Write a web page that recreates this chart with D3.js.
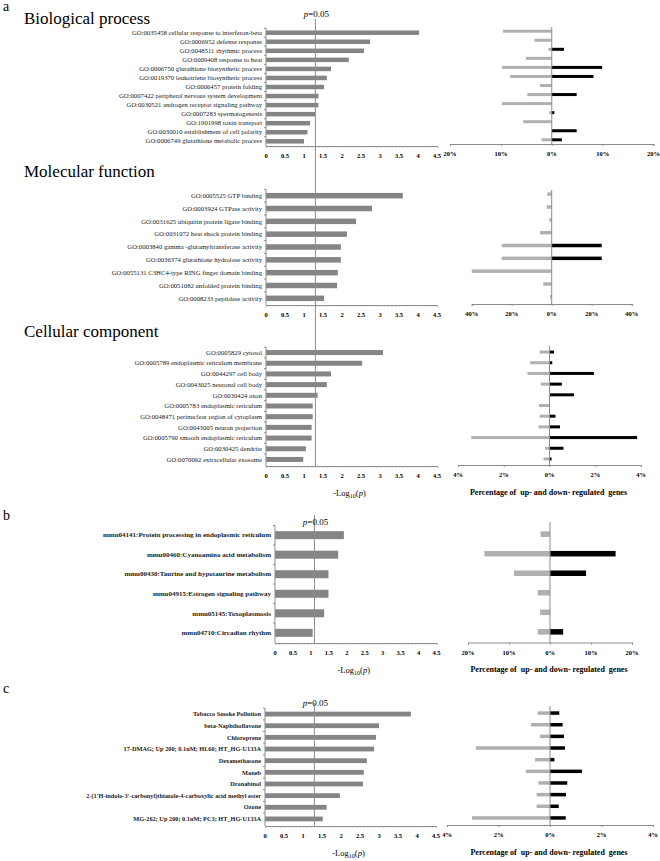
<!DOCTYPE html>
<html>
<head>
<meta charset="utf-8">
<script src="https://cdnjs.cloudflare.com/ajax/libs/d3/7.8.5/d3.min.js"></script>
<style>
    body { margin: 0; background: #fff; }
    svg { display: block; font-family: "Liberation Serif", "Times New Roman", serif; }
</style>
</head>
<body>
<div id="chart"></div>
<script>

// ---- data ----
var bpTerms = ["GO:0035458 cellular response to interferon-beta", "GO:0006952 defense response",
    "GO:0048511 rhythmic process", "GO:0009408 response to heat", "GO:0006750 glutathione biosynthetic process",
    "GO:0019370 leukotriene biosynthetic process", "GO:0006457 protein folding",
    "GO:0007422 peripheral nervous system development", "GO:0030521 androgen receptor signaling pathway",
    "GO:0007283 spermatogenesis", "GO:1901998 toxin transport", "GO:0030010 establishment of cell polarity",
    "GO:0006749 glutathione metabolic process"];
var bpLog = [4.03, 2.74, 2.58, 2.18, 1.71, 1.60, 1.53, 1.38, 1.38, 1.29, 1.16, 1.09, 1.00];
var bpDown = [9.6, 3.4, 0.65, 5.1, 9.8, 8.2, 2.3, 4.8, 9.8, 0.5, 5.6, 0, 2.0];
var bpUp = [0, 0, 2.4, 0, 9.9, 8.2, 0, 4.9, 0, 0.5, 0, 4.9, 2.0];

var mfTerms = ["GO:0005525 GTP binding", "GO:0003924 GTPase activity", "GO:0031625 ubiquitin protein ligase binding",
    "GO:0031072 heat shock protein binding", "GO:0003840 gamma -glutamyltransferase activity",
    "GO:0036374 glutathione hydrolase activity", "GO:0055131 C3HC4-type RING finger domain binding",
    "GO:0051082 unfolded protein binding", "GO:0008233 peptidase activity"];
var mfLog = [3.60, 2.79, 2.37, 2.13, 1.97, 1.97, 1.89, 1.87, 1.53];
var mfDown = [2.2, 2.5, 1.2, 5.8, 25, 25, 40, 4.2, 0.8];
var mfUp = [0, 0, 0, 0, 25, 25, 0, 0, 0];

var ccTerms = ["GO:0005829 cytosol", "GO:0005789 endoplasmic reticulum membrane", "GO:0044297 cell body",
    "GO:0043025 neuronal cell body", "GO:0030424 axon", "GO:0005783 endoplasmic reticulum",
    "GO:0048471 perinuclear region of cytoplasm", "GO:0043005 neuron projection",
    "GO:0005790 smooth endoplasmic reticulum", "GO:0030425 dendrite", "GO:0070062 extracellular exosome"];
var ccLog = [3.08, 2.53, 1.71, 1.60, 1.36, 1.23, 1.23, 1.20, 1.20, 1.05, 0.98];
var ccDown = [0.43, 0.84, 0.96, 0.38, 0, 0.46, 0.43, 0.48, 3.42, 0.19, 0.26];
var ccUp = [0.2, 0.12, 1.94, 0.54, 1.07, 0, 0.26, 0.46, 3.83, 0.61, 0.09];

var keggTerms = ["mmu04141:Protein processing in endoplasmic reticulum", "mmu00460:Cyanoamino acid metabolism",
    "mmu00430:Taurine and hypotaurine metabolism", "mmu04915:Estrogen signaling pathway",
    "mmu05145:Toxoplasmosis", "mmu04710:Circadian rhythm"];
var keggLog = [1.92, 1.76, 1.49, 1.49, 1.37, 1.05];
var keggDown = [2.3, 16, 8.8, 3.0, 2.4, 3.0];
var keggUp = [0, 16, 8.8, 0, 0, 3.2];

var drugTerms = ["Tobacco Smoke Pollution", "beta-Naphthoflavone", "Chloroprene",
    "17-DMAG; Up 200; 0.1uM; HL60; HT_HG-U133A", "Dexamethasone", "Maneb", "Dronabinol",
    "2-(1'H-indolo-3'-carbonyl)thiazole-4-carboxylic acid methyl ester", "Ozone",
    "MG-262; Up 200; 0.1uM; PC3; HT_HG-U133A"];
var drugLog = [3.84, 3.00, 2.92, 2.87, 2.68, 2.60, 2.58, 1.97, 1.62, 1.52];
var drugDown = [0.48, 0.74, 0.39, 2.88, 0.58, 0.94, 0.45, 0.52, 0.52, 3.03];
var drugUp = [0.36, 0.49, 0.54, 0.58, 0.17, 1.24, 0.67, 0.62, 0.34, 0.61];

var logTicks = [0, 0.5, 1, 1.5, 2, 2.5, 3, 3.5, 4, 4.5];
var pCut = 1.3;      // -log10(0.05)
var pCutKegg = 1.1;  // where the line sits in panel b

var svg = d3.select("#chart").append("svg")
    .attr("width", 660)
    .attr("height", 861);

var grayBar = "#858585",
    downCol = "#b0b0b0",
    upCol = "#000",
    axisCol = "#8c8c8c";

function fmtPct(d) {
    return Math.abs(d) + "%";
}

function drawPanel(o) {

    var x = d3.scaleLinear().domain([0, 4.5]).range([o.x0, o.x1]);
    var y = d3.scaleBand().domain(o.terms).range([o.top, o.bottom]).paddingOuter(0.02);
    var yc = function (t) { return y(t) + y.bandwidth() / 2; };

    var g = svg.append("g");

    // left bars
    g.selectAll(".bar")
        .data(o.terms.map(function (t, i) { return {key: t, value: o.log[i]}; }))
        .enter()
        .append("rect")
        .attr("class", "bar")
        .attr("x", x(0))
        .attr("y", function (d) { return yc(d.key) - o.barH / 2; })
        .attr("width", function (d) { return x(d.value) - x(0); })
        .attr("height", o.barH)
        .style("fill", grayBar);

    // category labels
    g.selectAll(".lab")
        .data(o.terms)
        .enter()
        .append("text")
        .attr("x", x(0) - 4)
        .attr("y", function (d) { return yc(d) + 2.2; })
        .style("text-anchor", "end")
        .style("font-size", o.labSize + "px")
        .style("font-weight", o.labBold ? "bold" : "normal")
        .style("fill", "#222")
        .text(function (d) { return d; });

    // y axis line and boundary ticks
    g.append("line")
        .attr("x1", x(0)).attr("x2", x(0))
        .attr("y1", o.top).attr("y2", o.axisY)
        .style("stroke", axisCol);
    g.selectAll(".ytick")
        .data(o.terms)
        .enter()
        .append("line")
        .attr("x1", x(0) - 2).attr("x2", x(0))
        .attr("y1", function (d) { return y(d); })
        .attr("y2", function (d) { return y(d); })
        .style("stroke", axisCol);

    // x axis: dotted minor ticks + labels
    var minor = d3.axisBottom(x).tickValues(d3.range(0, 4.51, 0.1)).tickSize(1.5).tickFormat("");
    var ax = g.append("g")
        .attr("transform", "translate(0," + o.axisY + ")")
        .call(minor);
    ax.select(".domain").style("stroke", axisCol);
    ax.selectAll(".tick line").style("stroke", "#999");

    g.selectAll(".xl")
        .data(logTicks)
        .enter()
        .append("text")
        .attr("x", function (d) { return x(d); })
        .attr("y", o.axisY + 12)
        .style("text-anchor", "middle")
        .style("font-size", "6.5px")
        .style("font-weight", "bold")
        .text(function (d) { return d; });

    // right panel
    var r = d3.scaleLinear().domain([-o.rMax, o.rMax]).range([o.r0, o.r1]);

    g.selectAll(".down")
        .data(o.terms.map(function (t, i) { return {key: t, value: o.down[i]}; }).filter(function (d) { return d.value > 0; }))
        .enter()
        .append("rect")
        .attr("x", function (d) { return r(-d.value); })
        .attr("y", function (d) { return yc(d.key) - o.rBarH / 2 - o.rShift; })
        .attr("width", function (d) { return r(0) - r(-d.value); })
        .attr("height", o.rBarH)
        .style("fill", downCol);

    g.selectAll(".up")
        .data(o.terms.map(function (t, i) { return {key: t, value: o.up[i]}; }).filter(function (d) { return d.value > 0; }))
        .enter()
        .append("rect")
        .attr("x", r(0))
        .attr("y", function (d) { return yc(d.key) - o.rBarH / 2 - o.rShift; })
        .attr("width", function (d) { return r(d.value) - r(0); })
        .attr("height", o.rBarH)
        .style("fill", upCol);

    g.append("line")
        .attr("x1", r(0)).attr("x2", r(0))
        .attr("y1", o.rTop).attr("y2", o.rAxisY)
        .style("stroke", axisCol);

    var rAxis = d3.axisBottom(r).tickValues(o.rTicks).tickSize(2).tickFormat("");
    var rax = g.append("g")
        .attr("transform", "translate(0," + o.rAxisY + ")")
        .call(rAxis);
    rax.select(".domain").style("stroke", axisCol);
    rax.selectAll(".tick line").style("stroke", axisCol);

    g.selectAll(".rl")
        .data(o.rTicks)
        .enter()
        .append("text")
        .attr("x", function (d) { return r(d); })
        .attr("y", o.rAxisY + 12)
        .style("text-anchor", "middle")
        .style("font-size", "6.5px")
        .style("font-weight", "bold")
        .text(fmtPct);

    if (o.xTitles) {
        var tl = g.append("text")
            .attr("x", (x(0) + x(4.5)) / 2 - 2)
            .attr("y", o.axisY + 30)
            .style("text-anchor", "middle")
            .style("font-size", "8.5px");
        tl.append("tspan").text("-Log");
        tl.append("tspan").attr("dy", 2).style("font-size", "6px").text("10");
        tl.append("tspan").attr("dy", -2).text("(");
        tl.append("tspan").style("font-style", "italic").text("p");
        tl.append("tspan").text(")");

        g.append("text")
            .attr("x", r(0) - 1)
            .attr("y", o.axisY + 29)
            .style("text-anchor", "middle")
            .style("font-size", "8px")
            .style("font-weight", "bold")
            .text("Percentage of\u00a0 up- and down- regulated\u00a0 genes");
    }

    return x;
}

function pLabel(xp, yy) {
    var t = svg.append("text")
        .attr("x", xp)
        .attr("y", yy)
        .style("text-anchor", "middle")
        .style("font-size", "9px");
    t.append("tspan").style("font-style", "italic").text("p");
    t.append("tspan").text("=0.05");
}

function title(txt, yy) {
    svg.append("text")
        .attr("x", 24)
        .attr("y", yy)
        .style("font-size", "17px")
        .text(txt);
}

function letter(txt, yy) {
    svg.append("text")
        .attr("x", 3)
        .attr("y", yy)
        .style("font-size", "14px")
        .text(txt);
}

// ---- panel a ----
letter("a", 11);
title("Biological process", 24);
title("Molecular function", 177);
title("Cellular component", 337);

var xBP = drawPanel({terms: bpTerms, log: bpLog, down: bpDown, up: bpUp,
    x0: 266, x1: 437, top: 28, bottom: 146, axisY: 146, barH: 4.5, labSize: 6.7,
    rMax: 20, r0: 450, r1: 653.5, rTicks: [-20, -10, 0, 10, 20], rAxisY: 144, rTop: 27, rBarH: 3, rShift: 1.5});

drawPanel({terms: mfTerms, log: mfLog, down: mfDown, up: mfUp,
    x0: 266, x1: 437, top: 189, bottom: 305, axisY: 305, barH: 5.5, labSize: 6.7,
    rMax: 40, r0: 471.7, r1: 631.7, rTicks: [-40, -20, 0, 20, 40], rAxisY: 304, rTop: 190, rBarH: 3.5, rShift: 1.5});

drawPanel({terms: ccTerms, log: ccLog, down: ccDown, up: ccUp,
    x0: 266, x1: 437, top: 347, bottom: 465, axisY: 466, barH: 5, labSize: 6.7, xTitles: true,
    rMax: 4, r0: 458, r1: 641, rTicks: [-4, -2, 0, 2, 4], rAxisY: 465, rTop: 346, rBarH: 3, rShift: 0.5});

svg.append("line")
    .attr("x1", xBP(pCut)).attr("x2", xBP(pCut))
    .attr("y1", 19).attr("y2", 466)
    .style("stroke", axisCol);
pLabel(xBP(pCut) + 1, 17);

// ---- panel b ----
letter("b", 520);
var xK = drawPanel({terms: keggTerms, log: keggLog, down: keggDown, up: keggUp,
    x0: 275, x1: 436.5, top: 525, bottom: 643, axisY: 643, barH: 8, labSize: 7, labBold: true, xTitles: true,
    rMax: 20, r0: 468, r1: 632, rTicks: [-20, -10, 0, 10, 20], rAxisY: 642.5, rTop: 522, rBarH: 5.5, rShift: 1});
svg.append("line")
    .attr("x1", xK(pCutKegg)).attr("x2", xK(pCutKegg))
    .attr("y1", 515).attr("y2", 643)
    .style("stroke", axisCol);
pLabel(xK(pCutKegg) + 1, 525);

// ---- panel c ----
letter("c", 693);
var xD = drawPanel({terms: drugTerms, log: drugLog, down: drugDown, up: drugUp,
    x0: 265, x1: 436, top: 708, bottom: 825, axisY: 826, barH: 4.8, labSize: 6.3, labBold: true, xTitles: true,
    rMax: 4, r0: 447, r1: 653, rTicks: [-4, -2, 0, 2, 4], rAxisY: 825, rTop: 706, rBarH: 3.5, rShift: 1});
svg.append("line")
    .attr("x1", xD(pCut)).attr("x2", xD(pCut))
    .attr("y1", 703).attr("y2", 826)
    .style("stroke", axisCol);
pLabel(xD(pCut) + 1, 706);

</script>
</body>
</html>
